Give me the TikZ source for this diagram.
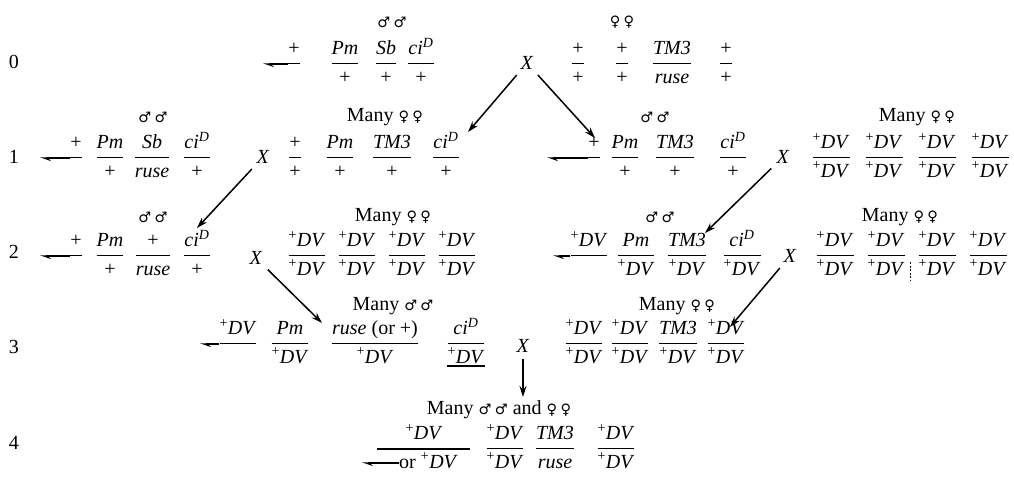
\documentclass[tikz,border=0pt]{standalone}
\usepackage{amsmath}
\usepackage{fontspec}
\setmainfont{Liberation Serif}
\newfontfamily\symfont{DejaVu Sans}[Scale=0.72]
\usetikzlibrary{arrows.meta}
\nulldelimiterspace=0pt
\newcommand\fr[2]{$\genfrac{}{}{1.2pt}{0}{\text{#1}}{\text{#2}}$}
\newcommand\topnum[1]{$\genfrac{}{}{0pt}{0}{\text{#1}}{\text{\phantom{#1}}}$}
\newcommand\botden[1]{$\genfrac{}{}{0pt}{0}{\text{\phantom{#1}}}{\text{#1}}$}
\newcommand\dv{\textsuperscript{+}\textit{DV}}
\newcommand\ciD{\textit{ci}\textsuperscript{\textit{D}}}
\newcommand\Mal{{\symfont ♂}}
\newcommand\Fem{{\symfont ♀}}
\begin{document}
\begin{tikzpicture}[x=1pt,y=-1pt,
  every node/.style={inner sep=0pt, font=\fontsize{20}{24}\selectfont},
  fr/.style={anchor=base, yshift=-5pt},
  lab/.style={anchor=center},
  hdr/.style={anchor=center},
  xx/.style={anchor=center, inner sep=3pt},
  arr/.style={line width=1.5pt, -{Stealth[length=11pt,width=7pt]}, shorten <=3pt},
  hp/.style={line width=1.2pt, -{Stealth[harpoon,length=9pt,width=6pt]}},
  bar/.style={line width=1.2pt},
  tick/.style={line width=0.6pt, dashed, dash pattern=on 2pt off 1.5pt}]
\useasboundingbox (0,0) rectangle (1014,479);

% ---------------- row 0
\node[lab] (l0) at (14,62) {0};
\node[hdr] (h0m) at (392,22) {\Mal\,\Mal};
\node[hdr] (h0f) at (622,22) {\Fem\,\Fem};
\node[fr] (a0) at (294,64) {\fr{+}{\phantom{+}}};
\coordinate (a0h) at (263,64);
\draw[hp] (a0.west |- a0h) -- (a0h);
\node[fr] (a1) at (345,64) {\fr{\textit{Pm}}{+}};
\node[fr] (a2) at (386,64) {\fr{\textit{Sb}}{+}};
\node[fr] (a3) at (421,64) {\fr{\ciD}{+}};
\node[xx] (x0) at (527,63) {\textit{X}};
\node[fr] (b1) at (578,64) {\fr{+}{+}};
\node[fr] (b2) at (622,64) {\fr{+}{+}};
\node[fr] (b3) at (672,64) {\fr{\textit{TM3}}{\textit{ruse}}};
\node[fr] (b4) at (726,64) {\fr{+}{+}};

% ---------------- row 1
\node[lab] (l1) at (14,157) {1};
\node[hdr] (h1a) at (153,117) {\Mal\,\Mal};
\node[hdr] (h1b) at (385,117) {Many \Fem\,\Fem};
\node[hdr] (h1c) at (655,117) {\Mal\,\Mal};
\node[hdr] (h1d) at (917,117) {Many \Fem\,\Fem};
\node[fr] (c0) at (76,158) {\fr{+}{\phantom{+}}};
\coordinate (c0h) at (40,158);
\draw[hp] (c0.west |- c0h) -- (c0h);
\node[fr] (c1) at (110,158) {\fr{\textit{Pm}}{+}};
\node[fr] (c2) at (152,158) {\fr{\textit{Sb}}{\textit{ruse}}};
\node[fr] (c3) at (197,158) {\fr{\ciD}{+}};
\node[xx] (x1a) at (263,157) {\textit{X}};
\node[fr] (d1) at (295,158) {\fr{+}{+}};
\node[fr] (d2) at (340,158) {\fr{\textit{Pm}}{+}};
\node[fr] (d3) at (392,158) {\fr{\textit{TM3}}{+}};
\node[fr] (d4) at (446,158) {\fr{\ciD}{+}};
\node[fr] (e0) at (594,158) {\fr{+}{\phantom{+}}};
\coordinate (e0h) at (547,158);
\draw[hp] (e0.west |- e0h) -- (e0h);
\node[fr] (e1) at (625,158) {\fr{\textit{Pm}}{+}};
\node[fr] (e2) at (675,158) {\fr{\textit{TM3}}{+}};
\node[fr] (e3) at (733,158) {\fr{\ciD}{+}};
\node[xx] (x1b) at (783,157) {\textit{X}};
\node[fr] (f1) at (831,158) {\fr{\dv}{\dv}};
\node[fr] (f2) at (884,158) {\fr{\dv}{\dv}};
\node[fr] (f3) at (937,158) {\fr{\dv}{\dv}};
\node[fr] (f4) at (990,158) {\fr{\dv}{\dv}};

% ---------------- row 2
\node[lab] (l2) at (14,252) {2};
\node[hdr] (h2a) at (153,217) {\Mal\,\Mal};
\node[hdr] (h2b) at (393,217) {Many \Fem\,\Fem};
\node[hdr] (h2c) at (660,217) {\Mal\,\Mal};
\node[hdr] (h2d) at (900,217) {Many \Fem\,\Fem};
\node[fr] (g0) at (76,256) {\fr{+}{\phantom{+}}};
\coordinate (g0h) at (40,256);
\draw[hp] (g0.west |- g0h) -- (g0h);
\node[fr] (g1) at (110,256) {\fr{\textit{Pm}}{+}};
\node[fr] (g2) at (153,256) {\fr{+}{\textit{ruse}}};
\node[fr] (g3) at (197,256) {\fr{\ciD}{+}};
\node[xx] (x2a) at (256,258) {\textit{X}};
\node[fr] (k1) at (307,256) {\fr{\dv}{\dv}};
\node[fr] (k2) at (357,256) {\fr{\dv}{\dv}};
\node[fr] (k3) at (407,256) {\fr{\dv}{\dv}};
\node[fr] (k4) at (457,256) {\fr{\dv}{\dv}};
\node[fr] (m0) at (589,256) {\fr{\dv}{\phantom{\dv}}};
\coordinate (m0h) at (553,256);
\draw[hp] (m0.west |- m0h) -- (m0h);
\node[fr] (m1) at (636,256) {\fr{\textit{Pm}}{\dv}};
\node[fr] (m2) at (687,256) {\fr{\textit{TM3}}{\dv}};
\node[fr] (m3) at (742,256) {\fr{\ciD}{\dv}};
\node[xx] (x2b) at (790,256) {\textit{X}};
\node[fr] (n1) at (835,256) {\fr{\dv}{\dv}};
\node[fr] (n2) at (886,256) {\fr{\dv}{\dv}};
\node[fr] (n3) at (937,256) {\fr{\dv}{\dv}};
\node[fr] (n4) at (988,256) {\fr{\dv}{\dv}};
\coordinate (tk1) at (910,262);
\coordinate (tk2) at (910,280);
\draw[tick] (tk1) -- (tk2);

% ---------------- row 3
\node[lab] (l3) at (14,347) {3};
\node[hdr] (h3a) at (393,306) {Many \Mal\,\Mal};
\node[hdr] (h3b) at (677,306) {Many \Fem\,\Fem};
\node[fr] (p0) at (238,344) {\fr{\dv}{\phantom{\dv}}};
\coordinate (p0h) at (200,344);
\draw[hp] (p0.west |- p0h) -- (p0h);
\node[fr] (p1) at (290,344) {\fr{\textit{Pm}}{\dv}};
\node[fr] (p2) at (375,344) {\fr{\textit{ruse} (or +)}{\dv}};
\node[fr] (p3) at (466,344) {\fr{\ciD}{\dv}};
\coordinate (p3u) at (0,366);
\draw[bar] (p3.west |- p3u) -- (p3.east |- p3u);
\node[xx] (x3) at (523,346) {\textit{X}};
\node[fr] (q1) at (584,344) {\fr{\dv}{\dv}};
\node[fr] (q2) at (630,344) {\fr{\dv}{\dv}};
\node[fr] (q3) at (678,344) {\fr{\textit{TM3}}{\dv}};
\node[fr] (q4) at (726,344) {\fr{\dv}{\dv}};

% ---------------- row 4
\node[lab] (l4) at (14,443) {4};
\node[hdr] (h4) at (499,410) {Many \Mal\,\Mal{} and \Fem\,\Fem};
\node[fr] (s0n) at (424,449) {\topnum{\dv}};
\coordinate (s0l) at (377,449);
\coordinate (s0r) at (470,449);
\draw[bar] (s0l) -- (s0r);
\node[fr, anchor=base west] (s0d) at (399,449) {\botden{or \dv}};
\coordinate (s0h) at (362,463);
\draw[hp] (s0d.west |- s0h) -- (s0h);
\node[fr] (s1) at (505,449) {\fr{\dv}{\dv}};
\node[fr] (s2) at (555,449) {\fr{\textit{TM3}}{\textit{ruse}}};
\node[fr] (s3) at (616,449) {\fr{\dv}{\dv}};

% ---------------- crosses
\coordinate (t0a) at (468,132);
\coordinate (t0b) at (595,138);
\coordinate (t1a) at (197,228);
\coordinate (t1b) at (705,233);
\coordinate (t2a) at (322,323);
\coordinate (t2b) at (730,327);
\coordinate (t3) at (523,397);
\draw[arr] (x0) -- (t0a);
\draw[arr] (x0) -- (t0b);
\draw[arr] (x1a) -- (t1a);
\draw[arr] (x1b) -- (t1b);
\draw[arr] (x2a) -- (t2a);
\draw[arr] (x2b) -- (t2b);
\draw[arr] (x3) -- (t3);
\end{tikzpicture}
\end{document}
